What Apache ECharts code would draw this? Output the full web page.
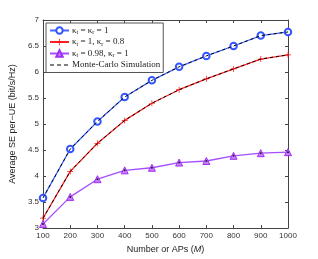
<!DOCTYPE html>
<html><head><meta charset="utf-8">
<script src="https://cdn.jsdelivr.net/npm/echarts@6/dist/echarts.min.js"></script>
<style>html,body{margin:0;padding:0;background:#fff}#c{width:318px;height:259px}</style>
</head><body><div id="c"></div>
<script>
var apCounts = [100,200,300,400,500,600,700,800,900,1000];
var seIdeal = [3.58,4.52,5.05,5.52,5.84,6.10,6.31,6.50,6.70,6.77];
var seRx08 = [3.19,4.09,4.63,5.07,5.40,5.66,5.87,6.06,6.25,6.33];
var seTx098 = [3.08,3.60,3.94,4.11,4.16,4.26,4.29,4.39,4.44,4.46];
var xTicks = [100,200,300,400,500,600,700,800,900,1000];
var yTicks = [3,3.5,4,4.5,5,5.5,6,6.5,7];

function pairs(v){ return apCounts.map(function(x,i){ return [x, v[i]]; }); }

var nameA = 'κt = κr = 1';
var nameB = 'κt = 1, κr = 0.8';
var nameC = 'κt = 0.98, κr = 1';
var nameMC = 'Monte-Carlo Simulation';
var legendFmt = {};
legendFmt[nameA] = '{k|κ}{s|t}{k| = }{k|κ}{s|r}{k| = 1}';
legendFmt[nameB] = '{k|κ}{s|t}{k| = 1, }{k|κ}{s|r}{k| = 0.8}';
legendFmt[nameC] = '{k|κ}{s|t}{k| = 0.98, }{k|κ}{s|r}{k| = 1}';
legendFmt[nameMC] = '{k|Monte-Carlo Simulation}';
var dashIcon = 'path://M0,0L0,0M19,8L19,8M0,3.4H4V4.6H0Z M7,3.4H11V4.6H7Z M14,3.4H18V4.6H14Z';

var chart = echarts.init(document.getElementById('c'), null, {renderer:'canvas'});
var tickFont = {fontFamily:'Liberation Sans, Arial, sans-serif', fontSize:8, color:'#333'};
var axLine = {show:true, lineStyle:{color:'#444', width:1}};
var tick = {show:true, inside:true, length:3, lineStyle:{color:'#444'}};
chart.setOption({
  animation:false,
  grid:{left:41, right:30, top:20, bottom:29, show:false},
  legend:{
    orient:'vertical', left:46, top:23, padding:[3,3,3,3], itemGap:2,
    itemWidth:19, itemHeight:8,
    backgroundColor:'#fff', borderColor:'#555', borderWidth:1,
    data:[nameA,nameB,nameC,{name:nameMC, icon:dashIcon, itemStyle:{color:'#000'}}],
    formatter:function(n){ return legendFmt[n]; },
    textStyle:{fontFamily:'Liberation Serif, Times New Roman, serif', fontSize:9, color:'#222', padding:[0,0,0,-2],
      rich:{k:{fontFamily:'Liberation Serif, serif', fontSize:9, color:'#222'},
            s:{fontFamily:'Liberation Serif, serif', fontSize:6, color:'#222', verticalAlign:'bottom', padding:[4,0,0,0]}}}
  },
  xAxis:[{
    type:'value', min:100, max:1000, interval:100,
    axisLine:axLine, axisTick:tick, splitLine:{show:false},
    axisLabel:Object.assign({margin:4, formatter:function(v){ return String(v); }}, tickFont),
    name:'Number or APs ({i|M})', nameLocation:'middle', nameGap:15,
    nameTextStyle:{fontFamily:'Liberation Sans, Arial, sans-serif', fontSize:9, color:'#222',
      rich:{i:{fontFamily:'Liberation Sans, Arial, sans-serif', fontSize:9, fontStyle:'italic', color:'#222'}}}
  },{
    type:'value', position:'top', min:100, max:1000, interval:100,
    axisLine:axLine, axisTick:tick, axisLabel:{show:false}, splitLine:{show:false}
  }],
  yAxis:[{
    type:'value', min:3, max:7, interval:0.5,
    axisLine:axLine, axisTick:tick, splitLine:{show:false},
    axisLabel:Object.assign({margin:4, formatter:function(v){ return String(v); }}, tickFont),
    name:'Average SE per−UE (bit/s/Hz)', nameLocation:'middle', nameGap:22,
    nameTextStyle:{fontFamily:'Liberation Sans, Arial, sans-serif', fontSize:9, color:'#222'}
  },{
    type:'value', position:'right', min:3, max:7, interval:0.5,
    axisLine:axLine, axisTick:tick, axisLabel:{show:false}, splitLine:{show:false}
  }],
  series:[
    {name:nameC, type:'line', data:pairs(seTx098), symbol:'triangle', symbolSize:7,
     lineStyle:{color:'#a64dff', width:1.3}, itemStyle:{color:'#c77dff', borderColor:'#a030f0', borderWidth:1}, z:3},
    {name:nameA, type:'line', data:pairs(seIdeal), symbol:'emptyCircle', symbolSize:6.5,
     lineStyle:{color:'#4466ff', width:1.3}, itemStyle:{color:'#3355ff', borderWidth:1}, z:3},
    {name:nameB, type:'line', data:pairs(seRx08), symbol:'path://M-1,-0.12H1V0.12H-1Z M-0.12,-1H0.12V1H-0.12Z', symbolSize:6,
     lineStyle:{color:'#ff2222', width:1.3}, itemStyle:{color:'#ff1111'}, z:3},
    {name:nameMC, type:'line', data:pairs(seIdeal), symbol:'none',
     lineStyle:{color:'#000', width:1, type:[3,3]}, itemStyle:{color:'#000'}, z:5},
    {name:nameMC, type:'line', data:pairs(seRx08), symbol:'none',
     lineStyle:{color:'#000', width:1, type:[3,3]}, itemStyle:{color:'#000'}, z:5},
    {name:'mcDots', type:'scatter', data:pairs(seTx098), symbol:'circle', symbolSize:2,
     itemStyle:{color:'#000'}, z:5}
  ]
});
</script></body></html>
